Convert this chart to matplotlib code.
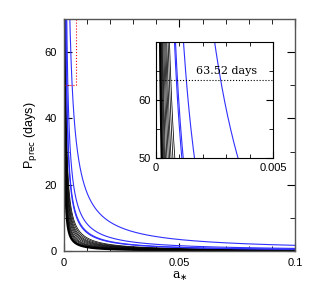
import numpy as np
import matplotlib
matplotlib.use("Agg")
import matplotlib.pyplot as plt
from matplotlib.ticker import MultipleLocator

# P_prec = C / a_*  ; coefficients C (days)
black_coeffs = [0.012, 0.014, 0.016, 0.018, 0.020, 0.023, 0.026, 0.029, 0.032, 0.036, 0.040]
blue_coeffs = [0.055, 0.058, 0.082, 0.175]
p_mark = 63.52
mark_label = "63.52 days"

a = np.linspace(1e-5, 0.1, 4000)

SANS = "Liberation Sans"
SERIF = "DejaVu Serif"
BLUE = "#3030ff"


def draw_curves(ax):
    for i, c in enumerate(black_coeffs):
        ax.plot(a, c / a, color="black", lw=1.6 if i == 0 else 0.55)
    for c in blue_coeffs:
        ax.plot(a, c / a, color=BLUE, lw=0.8)


def style_axes(ax, lw):
    for s in ax.spines.values():
        s.set_linewidth(lw)
    ax.tick_params(which="both", direction="in", top=True, right=True, labelsize=8)
    for lab in ax.get_xticklabels() + ax.get_yticklabels():
        lab.set_family(SANS)


fig = plt.figure(figsize=(3.14, 2.88), dpi=100)
ax = fig.add_axes([0.204, 0.128, 0.735, 0.806])
draw_curves(ax)
ax.set_xlim(0, 0.1)
ax.set_ylim(0, 70)
ax.xaxis.set_major_locator(MultipleLocator(0.05))
ax.xaxis.set_minor_locator(MultipleLocator(0.01))
ax.yaxis.set_major_locator(MultipleLocator(20))
ax.yaxis.set_minor_locator(MultipleLocator(10))
ax.set_xticks([0, 0.05, 0.1])
ax.set_xticklabels(["0", "0.05", "0.1"])
style_axes(ax, 1.0)
ax.tick_params(which="major", length=6, pad=5)
ax.tick_params(which="minor", length=3.5)
for s in ax.spines.values():
    s.set_color("#555555")

# red dotted box marking the zoomed region
ax.plot([0.005, 0.005], [50, 70], color="red", ls=":", lw=0.8)
ax.plot([0, 0.005], [50, 50], color="red", ls=":", lw=0.8)

ax.set_xlabel(r"a$_{\ast}$", family=SERIF, fontsize=9, labelpad=1)
ax.set_ylabel(r"P$_{\rm prec}$ (days)", family=SANS, fontsize=9, labelpad=4)

# inset
ins = fig.add_axes([0.497, 0.451, 0.373, 0.403])
draw_curves(ins)
ins.set_xlim(0, 0.005)
ins.set_ylim(50, 70)
ins.set_xticks([0, 0.005])
ins.set_xticklabels(["0", "0.005"])
ins.xaxis.set_minor_locator(MultipleLocator(0.001))
ins.set_yticks([50, 60])
ins.yaxis.set_minor_locator(MultipleLocator(5))
style_axes(ins, 0.8)
ins.tick_params(which="major", length=5)
ins.tick_params(which="minor", length=3)
ins.axhline(p_mark, color="black", ls=":", lw=0.8)
ins.text(0.0030, p_mark + 0.6, mark_label, family=SERIF, fontsize=8,
         ha="center", va="bottom")

fig.savefig("out.png", dpi=100)
